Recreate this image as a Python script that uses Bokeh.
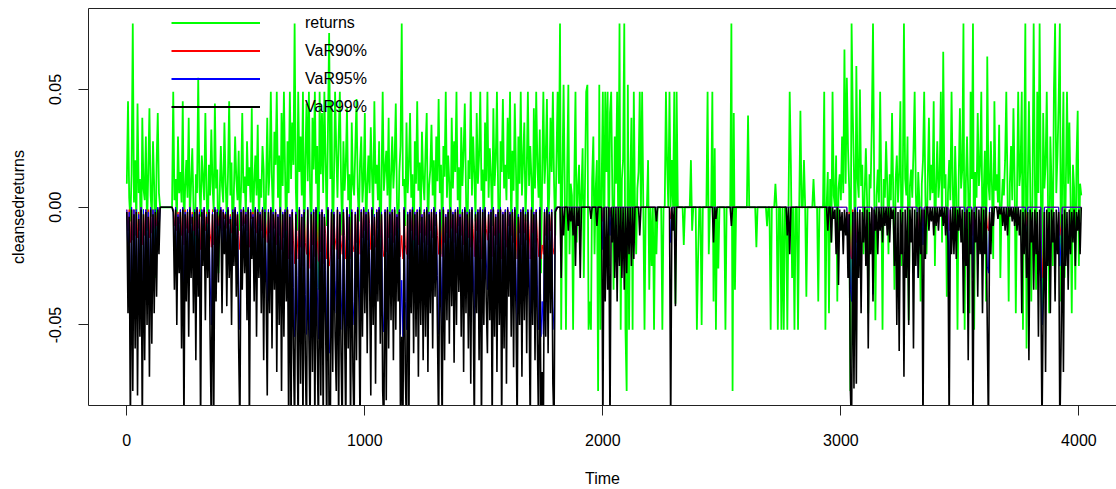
from bokeh.plotting import figure
from bokeh.models import Range1d, FixedTicker, NumeralTickFormatter, Legend, LegendItem, LinearAxis
from bokeh.embed import file_html
from bokeh.resources import INLINE

# ---------------- data (values in thousandths, i.e. 12 -> 0.012) ----------------
TIME_STEP = 5          # one stored value every 5 time units
x_ticks = [0, 1000, 2000, 3000, 4000]
y_ticks = [-0.05, 0.0, 0.05]
series_names = ["returns", "VaR90%", "VaR95%", "VaR99%"]
series_colors = ["#00ff00", "#ff0000", "#0000ff", "#000000"]
series_widths = [1.8, 1.0, 1.0, 1.6]

returns_pm = [
    10, 45, 4, -6, 14, 78, 2, 20, -8, 44, 6, 12, -25, 38, 8, 3, 30, -10, 15, 42,
    5, -4, 28, 9, -30, 18, 40, 6,
    0, 0, 0, 0, 0, 0, 0, 0, 0, 0, 0,
    49, 3, 12, -8, 30, 6, 15, 2, 45, -12, 8, 20, 4, 38, -5, 10, 25, 1, -35, 14,
    6, 55, 9, -4, 22, 12, 3, 40, 7, -15, 18, 5, 33, 10, -2, 44, 8, 16, -28, 4,
    26, 9, 2, 36, 11, -6, 14, 45, 5, 19, -20, 7, 30, 12, 3, 24, -10, 8, 40, 6,
    13, -4, 28, 9, 17, 2, 42, -14, 10, 22, 5, 35, -8, 12, 4, 26, 16, -30, 8, 38,
    5, 15, 49, 10, -6, 32, 18, 49, 4, 22, -12, 40, 9, 49, 14, -20, 28, 6, 49, 12,
    36, 18, 78, 8, -10, 49, 15, 30, 5, 49, -25, 20, 44, 11, 49, 7, -15, 38, 16, 49,
    10, 26, -35, 49, 14, 40, 6, 49, 20, -8, 33, 74, 12, 45, -18, 9, 49, 24, 4, 30,
    49, 11, -12, 28, 7, 18, 42, 3, 14, -22, 36, 10, 5, 25, 46, 8, -6, 19, 30, 2,
    12, 40, -15, 9, 22, 6, 34, 14, -4, 45, 10, 18, 3, 28, -30, 11, 49, 7, 16, 24,
    5, 38, -10, 13, 30, 8, 20, 44, 2, -18, 15, 26, 78, 9, 12, -8, 36, 6, 18, 40,
    4, 14, -25, 28, 10, 45, 7, 19, -6, 32, 12, 3, 24, 40, -12, 9, 16, 35, 5, 20,
    -8, 30, 11, 46, 6, 18, -20, 26, 13, 49, 4, 22, 10, -14, 38, 8, 28, 15, 49, 3,
    17, -10, 34, 9, 24, 44, 6, -28, 20, 12, 49, 5, 30, 14, -6, 40, 10, 22, 49, 7,
    16, -18, 36, 11, 49, 4, 25, 13, -8, 42, 9, 20, 49, 6, -32, 28, 15, 46, 8, 18,
    3, 38, 12, 49, -12, 24, 7, 44, 16, -22, 30, 10, 49, 5, 20, 36, -6, 14, 49, 9,
    26, 12, -16, 42, 8, 49, 18, 4, 33, -28, 14, 49, 10, 22, 46, -8, 6, 38, 15, 49,
    10, -12, 20,
    49, 10, 78, -52, 12, 52, 8, -52, 15, 52, -20, 10, 5, -52, 12, 49, -15, 8, 18, -10,
    6, 25, -30, 10, 49, 52, -52, -40, -52, 12, 30, -20, 8, 20, -78, 52, -52, 10, 49, -30,
    49, 15, 49, -25, 40, 49, 5, -35, 30, 10, 49, -15, 78, -52, 12, 20, 78, -52, -78, 52,
    -52, 10, 38, -52, 49, 0, -20, 8, 15,
    49, 0, 49, 0, -52, 0, 0, 20, -35, 0,
    -25, 0, -52, 0, -20, 0, 0, 0, 0, -52,
    0, 0, 49, 18, 0, 49, 0, 20, 0, 49,
    -41, 49, 0, 0, 0, 0, 0, -16, 0, 0,
    0, 0, 0, 20, -10, 0, 0, 0, -52, -22,
    0, 0, -50, 0, 0, 0, 0, 49, -20, 0,
    0, 49, -40, 25, -52, 0, -26, 0, 0, 0,
    0, 0, -52, 0, 0, 0, 0, 78, -78, 40,
    -35, 0, 0, 0, 0, 0, 0, 0, 0, 0,
    0, 39, 0, 0, 0, 0, 0, 0, -17, 0,
    0, 0, 0, 0, 0, 0, 0, -8, 0, 0,
    -52, 0, 0, 0, 10, 0, -52, 0, 0, -52,
    0, -52, 0, 0, -52, 0, 49, 18, -30, 0,
    -52, 0, 0, -52, 0, 41, 0, 0, 20, 0,
    -38, 0, 0, 0, 0, 0, 12, 0, 0, 0,
    -40, 0, 0, 0, 0, 49, -52, 0, 15, -45,
    12, -15, 49, 5, 0, 22, -40, 8, 14, 3,
    30, 6, 67, 10, 55, 25, 8, -78, 78, 40,
    15, -30, 60, 12, 4, 50, 9, 18, -20, 6,
    25, 3, -45, 14, 8, 35, 78, 10, -48, 5,
    16, 2, 49, 7, -52, 12, 4, 28, 9, -20,
    14, 3, 40, 6, -35, 11, 22, 2, 15, 45,
    -25, 8, 78, 12, 5, 30, -48, 9, 16, 4,
    24, 49, 6, -12, 15, 2, -40, 10, 20, 49,
    5, -20, 12, 38, 3, 18, 6, 45, -25, 9,
    28, 4, 12, 49, -15, 66, 8, 14, -38, 6,
    20, 3, 49, 9, -15, 26, 5, -52, 12, 42,
    8, 16, 78, -52, 10, 30, 6, -45, 49, 12,
    78, -52, 15, 4, 40, 9, 18, 49, -18, 6,
    24, -40, 64, 10, 3, 28, 8, -22, 45, 7,
    14, 2, 35, -30, 0, 12, 5, 20, 49, 8,
    -40, 10, 26, 3, 42, 12, -45, 6, 49, 9,
    16, 49, -52, 20, 78, -60, 8, 45, 14, -40,
    5, 78, 12, -35, 49, 6, 78, 10, -50, 40,
    8, 18, 49, 4, -45, 30, 10, -25, 49, 78,
    6, 22, 45, 78, -40, 12, 49, -30, 8, 49,
    10, 36, 4, -45, 18, 8, -35, 20, 41, -25,
    10, 5,
]

var99_pm = [
    -2, -45, -4, -95, -1, -78, -3, -60, -2, -80, -5, -55, -1, -95, -3, -65, -2, -50, -4, -72,
    -1, -58, -3, -45, -2, -38, -1, -20,
    0, 0, 0, 0, 0, 0, 0, 0, 0, 0, 0,
    -2, -35, -1, -50, -4, -28, -2, -60, -1, -95, -3, -40, -2, -55, -1, -30, -4, -45, -2, -65,
    -1, -38, -3, -95, -2, -25, -1, -48, -4, -30, -2, -55, -95, -3, -95, -1, -40, -2, -32, -4,
    -1, -45, -2, -20, -3, -42, -1, -30, -5, -50, -2, -25, -1, -38, -3, -60, -95, -2, -35, -1,
    -28, -3, -48, -1, -95, -2, -22, -4, -40, -1, -55, -2, -30, -3, -45, -1, -65, -2, -35, -80,
    -2, -45, -1, -60, -3, -35, -2, -70, -4, -50, -1, -78, -3, -55, -2, -40, -1, -95, -4, -95,
    -2, -60, -95, -3, -50, -95, -1, -75, -4, -95, -2, -65, -95, -1, -55, -95, -3, -70, -2, -95,
    -1, -60, -95, -3, -80, -2, -95, -4, -48, -95, -1, -95, -95, -2, -70, -3, -55, -78, -1, -95,
    -3, -62, -95, -2, -50, -95, -1, -60, -4, -95, -2, -70, -95, -3, -65, -1, -40, -95, -2, -55,
    -1, -45, -3, -62, -2, -30, -80, -1, -50, -4, -75, -2, -40, -1, -58, -3, -78, -95, -2, -82,
    -1, -60, -3, -48, -2, -65, -1, -52, -4, -40, -2, -95, -55, -95, -1, -70, -95, -3, -95, -2,
    -45, -1, -62, -3, -55, -2, -72, -1, -50, -4, -65, -2, -55, -1, -70, -3, -45, -2, -60, -1,
    -38, -3, -52, -95, -2, -45, -95, -1, -65, -4, -48, -2, -58, -1, -42, -3, -66, -2, -50, -1,
    -36, -4, -55, -2, -70, -1, -45, -3, -60, -2, -75, -1, -40, -95, -3, -45, -2, -65, -1, -95,
    -2, -50, -1, -40, -62, -3, -48, -2, -95, -1, -55, -4, -70, -2, -50, -1, -95, -3, -60, -2,
    -75, -1, -38, -3, -55, -2, -68, -1, -45, -95, -4, -50, -2, -72, -1, -48, -3, -62, -2, -40,
    -95, -1, -50, -3, -65, -2, -58, -95, -1, -95, -70, -95, -2, -55, -1, -62, -3, -45, -2, -75,
    -95, -2, -1,
    0, 0, 0, -30, 0, -12, 0, 0, 0, -10,
    0, -6, 0, -12, 0, -25, 0, -8, 0, -30,
    0, 0, 0, 0, 0, 0, 0, 0, -5, 0,
    0, 0, 0, -8, 0, 0, 0, 0, -95, 0,
    -40, 0, -35, 0, -95, 0, -15, 0, -30, 0,
    -40, 0, -25, 0, -30, 0, -35, 0, -28, 0,
    -20, 0, -25, 0, -22, 0, 0, 0, 0,
    -12, 0, 0, 0, 0, 0, 0, 0, 0, 0,
    0, 0, 0, 0, -6, 0, 0, 0, 0, 0,
    0, 0, 0, 0, 0, 0, -95, 0, -10, 0,
    -42, 0, 0, 0, 0, 0, 0, 0, 0, 0,
    0, 0, 0, 0, 0, 0, 0, 0, 0, 0,
    0, 0, 0, 0, 0, 0, 0, 0, 0, 0,
    0, 0, -15, 0, -5, 0, 0, 0, 0, 0,
    0, 0, 0, 0, 0, 0, 0, -8, 0, 0,
    0, 0, 0, 0, 0, 0, 0, 0, 0, 0,
    0, 0, 0, 0, 0, 0, 0, 0, 0, 0,
    0, 0, 0, 0, 0, 0, 0, 0, 0, 0,
    0, 0, 0, 0, 0, 0, 0, 0, 0, 0,
    0, 0, 0, 0, -12, 0, -20, 0, 0, 0,
    0, 0, 0, 0, 0, 0, 0, 0, 0, 0,
    0, 0, 0, 0, 0, 0, 0, 0, 0, 0,
    0, 0, 0, 0, 0, 0, 0, 0, -10, 0,
    0, -15, 0, -5, -1, -20, 0, -33, -1, -10,
    -2, -20, -1, -12, -2, -30, -3, -78, -95, -2,
    -77, -1, -75, -2, -30, -1, -45, -2, -15, 0,
    -25, -1, -60, -2, -20, 0, -40, -1, -10, 0,
    -20, 0, -10, 0, -15, 0, -8, 0, -12, 0,
    -15, 0, -5, -1, -25, 0, -50, -2, -61, -1,
    -20, -2, -72, -1, -30, 0, -50, -1, -15, 0,
    -60, -1, -25, -2, -30, 0, -20, -1, -95, -1,
    -22, 0, 0, -10, 0, -6, 0, -12, 0, -8,
    0, -10, 0, -4, 0, -8, 0, -12, 0, -15,
    -95, -1, -20, 0, -20, 0, -22, -1, -10, 0,
    -15, -1, -45, -2, -25, -1, -65, -2, -20, -1,
    -95, -2, -15, 0, -38, -1, -20, 0, -45, -1,
    -20, 0, -50, -95, -2, -20, 0, -8, 0, 0,
    0, -5, 0, -3, 0, -8, 0, -10, 0, -12,
    0, -4, 0, -6, 0, -8, 0, -10, 0, -12,
    -1, -45, -2, -20, -1, -30, -2, -65, -1, -15,
    -2, -35, -1, -20, -2, -55, -1, -30, -95, -40,
    -2, -70, -1, -25, -2, -45, -1, -15, -2, -40,
    -1, -20, -2, -95, -60, -3, -70, -1, -25, -2,
    -35, -1, -20, -2, -15, -1, -25, -2, -10, -1,
    -20, 0,
]

var90_pm = [
    -1, -10, -1, -15, 0, -14, -1, -12, -1, -13, -2, -10, 0, -16, -1, -12, -1, -9, -1, -13,
    0, -11, -1, -9, -1, -8, 0, -5,
    0, 0, 0, 0, 0, 0, 0, 0, 0, 0, 0,
    -1, -8, 0, -10, -2, -7, -1, -12, 0, -16, -1, -9, -1, -11, 0, -7, -2, -10, -1, -12,
    0, -9, -1, -18, -1, -6, 0, -10, -2, -7, -1, -11, -17, -1, -16, 0, -9, -1, -8, -2,
    0, -10, -1, -5, -2, -9, 0, -7, -3, -11, -1, -6, 0, -8, -2, -12, -18, -1, -8, 0,
    -7, -2, -10, 0, -17, -1, -5, -2, -9, 0, -11, -1, -7, -2, -10, 0, -13, -1, -8, -15,
    -1, -11, 0, -14, -2, -9, -1, -16, -3, -12, 0, -18, -2, -13, -1, -10, 0, -22, -3, -20,
    -1, -14, -24, -2, -12, -22, 0, -17, -3, -25, -1, -15, -20, 0, -13, -26, -2, -16, -1, -21,
    0, -14, -23, -2, -19, -1, -24, -3, -11, -22, 0, -25, -21, -1, -16, -2, -13, -18, 0, -22,
    -2, -14, -20, -1, -12, -22, 0, -14, -3, -21, -1, -16, -19, -2, -15, 0, -9, -20, -1, -13,
    0, -10, -2, -14, -1, -7, -18, 0, -12, -3, -17, -1, -9, 0, -13, -2, -18, -21, -1, -19,
    0, -13, -2, -11, -1, -15, 0, -12, -3, -9, -1, -21, -12, -22, 0, -16, -20, -2, -22, -1,
    -10, 0, -14, -2, -12, -1, -16, 0, -11, -3, -15, -1, -12, 0, -16, -2, -10, -1, -13, 0,
    -8, -2, -12, -20, -1, -10, -21, 0, -15, -3, -11, -1, -13, 0, -9, -2, -15, -1, -11, 0,
    -8, -3, -12, -1, -16, 0, -10, -2, -13, -1, -17, 0, -9, -21, -2, -10, -1, -15, 0, -22,
    -1, -11, 0, -9, -14, -2, -11, -1, -21, 0, -12, -3, -16, -1, -11, 0, -22, -2, -14, -1,
    -17, 0, -8, -2, -12, -1, -15, 0, -10, -22, -3, -11, -1, -16, 0, -11, -2, -14, -1, -9,
    -22, 0, -11, -2, -15, -1, -13, -21, 0, -22, -16, -20, -1, -12, 0, -14, -2, -10, -1, -17,
    -20, -1, 0,
    0, 0, 0, 0, 0, 0, 0, 0, 0, 0,
    0, 0, 0, 0, 0, 0, 0, 0, 0, 0,
    0, 0, 0, 0, 0, 0, 0, 0, 0, 0,
    0, 0, 0, 0, 0, 0, 0, 0, -6, 0,
    0, 0, 0, 0, -4, 0, 0, 0, 0, 0,
    0, 0, 0, 0, 0, 0, 0, 0, 0, 0,
    0, 0, 0, 0, 0, 0, 0, 0, 0, 0,
    0, 0, 0, 0, 0, 0, 0, 0, 0, 0,
    0, 0, 0, 0, 0, 0, 0, 0, 0, 0,
    0, 0, 0, 0, 0, -5, 0, 0, 0, 0,
    0, 0, 0, 0, 0, 0, 0, 0, 0, 0,
    0, 0, 0, 0, 0, 0, 0, 0, 0, 0,
    0, 0, 0, 0, 0, 0, 0, 0, 0, 0,
    0, 0, 0, 0, 0, 0, 0, 0, 0, 0,
    0, 0, 0, 0, 0, 0, 0, 0, 0, 0,
    0, 0, 0, 0, 0, 0, 0, 0, 0, 0,
    0, 0, 0, 0, 0, 0, 0, 0, 0, 0,
    0, 0, 0, 0, 0, 0, 0, 0, 0, 0,
    0, 0, 0, 0, 0, 0, 0, 0, 0, 0,
    0, 0, 0, 0, 0, 0, 0, 0, 0, 0,
    0, 0, 0, 0, 0, 0, 0, 0, 0, 0,
    0, 0, 0, 0, 0, 0, 0, 0, 0, 0,
    0, 0, 0, 0, 0, 0, 0, 0, 0,
    0, 0, 0, 0, 0, 0, 0, 0, 0, 0,
    0, 0, 0, 0, 0, -10, -2, -20, -22, -1,
    -20, 0, -15, 0, 0, 0, 0, 0, 0, 0,
    0, 0, 0, 0, 0, 0, -20, 0, 0, 0,
    0, 0, 0, 0, 0, 0, 0, 0, 0, 0,
    0, 0, 0, 0, 0, 0, 0, 0, 0, 0,
    0, 0, 0, 0, 0, 0, 0, 0, 0, 0,
    0, 0, 0, 0, -10, 0, 0, 0, -8, 0,
    0, 0, 0, 0, 0, 0, 0, 0, 0, 0,
    0, 0, 0, 0, 0, 0, 0, 0, 0, 0,
    -10, 0, 0, 0, 0, 0, 0, 0, 0, 0,
    0, 0, 0, 0, -8, 0, 0, 0, 0, 0,
    -12, 0, 0, 0, 0, 0, 0, 0, 0, 0,
    0, 0, -8, -10, 0, 0, 0, 0, 0, 0,
    0, 0, 0, 0, 0, 0, 0, 0, 0, 0,
    0, 0, 0, 0, 0, 0, 0, 0, 0, 0,
    0, 0, 0, 0, 0, -8, 0, 0, 0, 0,
    0, 0, 0, 0, 0, 0, 0, 0, -30, -20,
    0, 0, 0, 0, 0, 0, 0, 0, 0, 0,
    0, 0, 0, -12, -8, 0, 0, 0, 0, 0,
    0, 0, 0, 0, 0, 0, 0, 0, 0, 0,
    0, 0,
]

var95_pm = [
    -1, -25, -2, -50, 0, -42, -1, -33, -1, -45, -3, -30, 0, -55, -1, -36, -1, -28, -2, -40,
    0, -32, -1, -25, -1, -20, 0, -12,
    0, 0, 0, 0, 0, 0, 0, 0, 0, 0, 0,
    -1, -20, 0, -28, -3, -16, -1, -34, 0, -50, -2, -22, -1, -30, 0, -17, -3, -25, -1, -36,
    0, -21, -2, -52, -1, -14, 0, -27, -3, -17, -1, -30, -50, -2, -48, 0, -22, -1, -18, -3,
    0, -25, -1, -11, -2, -23, 0, -17, -4, -28, -1, -14, 0, -21, -2, -34, -52, -1, -19, 0,
    -16, -2, -27, 0, -50, -1, -12, -3, -22, 0, -30, -1, -17, -2, -25, 0, -36, -1, -19, -44,
    -1, -26, 0, -34, -2, -20, -1, -40, -3, -29, 0, -45, -2, -32, -1, -23, 0, -55, -3, -52,
    -1, -34, -55, -2, -29, -60, 0, -42, -3, -58, -1, -37, -54, 0, -31, -62, -2, -40, -1, -56,
    0, -34, -56, -2, -46, -1, -60, -3, -27, -54, 0, -62, -55, -1, -40, -2, -31, -45, 0, -57,
    -2, -35, -52, -1, -28, -55, 0, -34, -3, -53, -1, -40, -50, -2, -37, 0, -23, -52, -1, -31,
    0, -25, -2, -35, -1, -17, -46, 0, -28, -3, -43, -1, -22, 0, -33, -2, -44, -53, -1, -47,
    0, -34, -2, -27, -1, -37, 0, -29, -3, -22, -1, -54, -31, -55, 0, -40, -52, -2, -56, -1,
    -25, 0, -35, -2, -31, -1, -41, 0, -28, -3, -37, -1, -31, 0, -40, -2, -25, -1, -34, 0,
    -21, -2, -29, -54, -1, -25, -52, 0, -37, -3, -27, -1, -33, 0, -23, -2, -37, -1, -28, 0,
    -20, -3, -31, -1, -40, 0, -25, -2, -34, -1, -42, 0, -22, -53, -2, -25, -1, -37, 0, -55,
    -1, -28, 0, -22, -35, -2, -27, -1, -54, 0, -31, -3, -40, -1, -28, 0, -55, -2, -34, -1,
    -42, 0, -21, -2, -31, -1, -38, 0, -25, -53, -3, -28, -1, -41, 0, -27, -2, -35, -1, -22,
    -54, 0, -28, -2, -37, -1, -33, -52, 0, -55, -40, -54, -1, -31, 0, -35, -2, -25, -1, -42,
    -52, -1, 0,
    0, 0, 0, 0, 0, 0, 0, 0, 0, 0,
    0, 0, 0, 0, 0, 0, 0, 0, 0, 0,
    0, 0, 0, 0, 0, 0, 0, 0, 0, 0,
    0, 0, 0, 0, 0, 0, 0, 0, -18, 0,
    0, 0, 0, 0, -12, 0, 0, 0, 0, 0,
    0, 0, 0, 0, 0, 0, 0, 0, 0, 0,
    0, 0, 0, 0, 0, 0, 0, 0, 0, 0,
    0, 0, 0, 0, 0, 0, 0, 0, 0, 0,
    0, 0, 0, 0, 0, 0, 0, 0, 0, 0,
    0, 0, 0, 0, 0, -15, 0, 0, 0, 0,
    0, 0, 0, 0, 0, 0, 0, 0, 0, 0,
    0, 0, 0, 0, 0, 0, 0, 0, 0, 0,
    0, 0, 0, 0, 0, 0, 0, 0, 0, 0,
    0, 0, 0, 0, 0, 0, 0, 0, 0, 0,
    0, 0, 0, 0, 0, 0, 0, 0, 0, 0,
    0, 0, 0, 0, 0, 0, 0, 0, 0, 0,
    0, 0, 0, 0, 0, 0, 0, 0, 0, 0,
    0, 0, 0, 0, 0, 0, 0, 0, 0, 0,
    0, 0, 0, 0, 0, 0, 0, 0, 0, 0,
    0, 0, 0, 0, 0, 0, 0, 0, 0, 0,
    0, 0, 0, 0, 0, 0, 0, 0, 0, 0,
    0, 0, 0, 0, 0, 0, 0, 0, 0, 0,
    0, 0, 0, 0, 0, 0, 0, 0, 0,
    0, 0, 0, 0, 0, 0, 0, 0, 0, 0,
    0, 0, 0, 0, 0, -25, -3, -35, -40, -2,
    -35, 0, -30, 0, 0, 0, 0, 0, 0, 0,
    0, 0, 0, 0, 0, 0, -37, 0, 0, 0,
    0, 0, 0, 0, 0, 0, 0, 0, 0, 0,
    0, 0, 0, 0, 0, 0, 0, 0, 0, 0,
    0, 0, 0, 0, 0, 0, 0, 0, 0, 0,
    0, 0, 0, 0, -30, 0, 0, 0, -16, 0,
    0, 0, 0, 0, 0, 0, 0, 0, 0, 0,
    0, 0, 0, 0, 0, 0, 0, 0, 0, 0,
    -35, 0, 0, 0, 0, 0, 0, 0, 0, 0,
    0, 0, 0, 0, -20, 0, 0, 0, 0, 0,
    -30, 0, 0, 0, 0, 0, 0, 0, 0, 0,
    0, 0, -25, -28, 0, 0, 0, 0, 0, 0,
    0, 0, 0, 0, 0, 0, 0, 0, 0, 0,
    0, 0, 0, 0, 0, 0, 0, 0, 0, 0,
    0, 0, 0, 0, 0, -20, 0, 0, 0, 0,
    0, 0, 0, 0, 0, 0, 0, 0, -50, -40,
    0, 0, 0, 0, 0, 0, 0, 0, 0, 0,
    0, 0, 0, -25, -15, 0, 0, 0, 0, 0,
    0, 0, 0, 0, 0, 0, 0, 0, 0, 0,
    0, 0,
]

series_pm = [returns_pm, var90_pm, var95_pm, var99_pm]

FRAME_COLOR = "#222222"

# ---------------- figure ----------------
p = figure(width=1116, height=489, output_backend="svg", toolbar_location=None,
           x_range=Range1d(-161, 4158), y_range=Range1d(-0.0842, 0.0844),
           min_border_left=88, min_border_right=0, min_border_top=8, min_border_bottom=84)
p.xgrid.visible = False
p.ygrid.visible = False
p.outline_line_color = None          # box drawn by the axis lines (right side is off-canvas)
p.background_fill_color = "white"
p.border_fill_color = "white"

for vals, col, lw in zip(series_pm, series_colors, series_widths):
    xs = [TIME_STEP * i for i in range(len(vals))]
    ys = [v / 1000.0 for v in vals]
    p.line(xs, ys, line_color=col, line_width=lw)

# legend entries (thicker sample lines, as in the original)
nan = float("nan")
items = []
for name, col in zip(series_names, series_colors):
    r = p.line(x=[nan], y=[nan], line_color=col, line_width=2)
    items.append(LegendItem(label=name, renderers=[r]))
legend = Legend(items=items, location=(83, 288), orientation="vertical",
                glyph_width=89, glyph_height=21, label_height=21, spacing=7,
                label_standoff=45, padding=0, margin=0,
                background_fill_alpha=0, border_line_alpha=0,
                label_text_font="Liberation Sans", label_text_font_size="16px",
                label_text_color="black")
p.add_layout(legend)

# top edge of the box: an axis line without ticks
top_axis = LinearAxis(ticker=FixedTicker(ticks=[]), axis_line_color=FRAME_COLOR,
                      major_tick_in=0, major_tick_out=0, minor_tick_in=0, minor_tick_out=0)
p.add_layout(top_axis, "above")

# axes
p.below[0].ticker = FixedTicker(ticks=x_ticks)
p.left[0].ticker = FixedTicker(ticks=y_ticks)
p.left[0].formatter = NumeralTickFormatter(format="0.00")
p.below[0].axis_label = "Time"
p.left[0].axis_label = "cleansedreturns"
p.left[0].major_label_orientation = "vertical"
for ax in (p.below[0], p.left[0]):
    ax.axis_line_color = FRAME_COLOR
    ax.major_tick_out = 10
    ax.major_tick_in = 0
    ax.minor_tick_out = 0
    ax.minor_tick_in = 0
    ax.major_tick_line_color = FRAME_COLOR
    ax.major_label_text_font = "Liberation Sans"
    ax.major_label_text_font_size = "16px"
    ax.major_label_text_color = "black"
    ax.axis_label_text_font = "Liberation Sans"
    ax.axis_label_text_font_size = "16px"
    ax.axis_label_text_font_style = "normal"
    ax.axis_label_text_color = "black"
p.below[0].major_label_standoff = 18
p.below[0].axis_label_standoff = 21
p.left[0].major_label_standoff = 17
p.left[0].axis_label_standoff = 20

open("out.html", "w").write(file_html(p, INLINE))
